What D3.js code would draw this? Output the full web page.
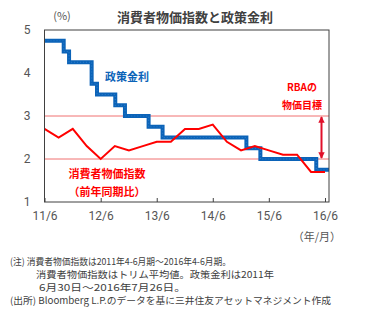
<!DOCTYPE html>
<html><head><meta charset="utf-8">
<script src="https://cdn.jsdelivr.net/npm/d3@7"></script>
<style>
body{margin:0;background:#fff;}
text{font-family:"Noto Sans CJK JP","Noto Sans",sans-serif;}
</style></head>
<body><svg id="c" width="367" height="333"></svg>
<script>
// CPI (trimmed mean, yoy %) quarterly 2011Q2 .. 2016Q2
const cpiDates = ["2011-06-30","2011-09-30","2011-12-31","2012-03-31","2012-06-30","2012-09-30","2012-12-31","2013-03-31","2013-06-30","2013-09-30","2013-12-31","2014-03-31","2014-06-30","2014-09-30","2014-12-31","2015-03-31","2015-06-30","2015-09-30","2015-12-31","2016-03-31","2016-06-30"];
const cpiValues = [2.7,2.5,2.7,2.3,2.0,2.3,2.2,2.3,2.4,2.4,2.7,2.7,2.8,2.4,2.2,2.3,2.2,2.1,2.1,1.7,1.7];
// RBA cash rate change dates and levels
const rateDates = ["2011-06-30","2011-11-02","2011-12-07","2012-05-02","2012-06-06","2012-10-03","2012-12-05","2013-05-08","2013-08-07","2015-02-04","2015-05-06","2016-05-04","2016-07-26"];
const rateValues = [4.75,4.5,4.25,3.75,3.5,3.25,3.0,2.75,2.5,2.25,2.0,1.75,1.75];
const xTickDates = ["2011-06-30","2012-06-30","2013-06-30","2014-06-30","2015-06-30","2016-06-30"];
const xTickLabels = ["11/6","12/6","13/6","14/6","15/6","16/6"];
const yTicks = [1,2,3,4,5];
const targetBand = [2,3];

const parse = d3.timeParse("%Y-%m-%d");
const svg = d3.select("#c");
const L=44.5,R=329,T=30,B=202;
const x = d3.scaleTime().domain([parse("2011-06-30"),parse("2016-07-26")]).range([L,R]);
const y = d3.scaleLinear().domain([1,5]).range([B,T]);

// reference lines
svg.selectAll(".ref").data(targetBand).enter().append("line")
 .attr("x1",L).attr("x2",R).attr("y1",d=>y(d)).attr("y2",d=>y(d))
 .attr("stroke","#F07070").attr("stroke-width",1);

// x axis ticks (inside)
const xAxis = d3.axisBottom(x).tickValues(xTickDates.map(parse)).tickSizeInner(-4).tickSizeOuter(0)
 .tickFormat((d,i)=>xTickLabels[i]).tickPadding(9);
const gx = svg.append("g").attr("transform",`translate(0,${B})`).call(xAxis);
gx.select(".domain").remove();
gx.selectAll("line").attr("stroke","#404040");
gx.selectAll("text").attr("fill","#555").style("font-size","12px").style("font-family","Roboto, 'Noto Sans', sans-serif");

const yAxis = d3.axisLeft(y).tickValues(yTicks).tickSize(0).tickPadding(14).tickFormat(d3.format("d"));
const gy = svg.append("g").attr("transform",`translate(${L},0)`).call(yAxis);
gy.select(".domain").remove();
gy.selectAll("text").attr("fill","#555").style("font-size","12px").style("font-family","Roboto, 'Noto Sans', sans-serif");

// policy rate step line
const rateData = rateDates.map((d,i)=>({d:parse(d),v:rateValues[i]}));
svg.append("path").datum(rateData)
 .attr("d",d3.line().x(d=>x(d.d)).y(d=>y(d.v)).curve(d3.curveStepAfter))
 .attr("fill","none").attr("stroke","#0B63B8").attr("stroke-width",4);
svg.append("path").datum(rateData)
 .attr("d",d3.line().x(d=>x(d.d)).y(d=>y(d.v)).curve(d3.curveStepAfter))
 .attr("fill","none").attr("stroke","#3C8AD6").attr("stroke-width",1.2).attr("stroke-dasharray","1,2").attr("opacity",0.6);

// CPI line
const cpiData = cpiDates.map((d,i)=>({d:parse(d),v:cpiValues[i]}));
svg.append("path").datum(cpiData)
 .attr("d",d3.line().x(d=>x(d.d)).y(d=>y(d.v)))
 .attr("fill","none").attr("stroke","#FF0000").attr("stroke-width",2).attr("stroke-linejoin","miter");

// plot border
svg.append("rect").attr("x",L).attr("y",T).attr("width",R-L).attr("height",B-T)
 .attr("fill","none").attr("stroke","#404040").attr("stroke-width",1);

// target arrow
const defs = svg.append("defs");
defs.append("marker").attr("id","ah").attr("viewBox","0 0 10 10").attr("refX",9).attr("refY",5)
 .attr("markerWidth",3.2).attr("markerHeight",4.5).attr("orient","auto-start-reverse")
 .append("path").attr("d","M0,0L10,5L0,10z").attr("fill","#E0102A");
const ax = 321.5;
svg.append("line").attr("x1",ax).attr("x2",ax).attr("y1",y(3)+1).attr("y2",y(2)-1)
 .attr("stroke","#E0102A").attr("stroke-width",2)
 .attr("marker-start","url(#ah)").attr("marker-end","url(#ah)");

// labels
svg.append("text").attr("x",195).attr("y",22).attr("text-anchor","middle")
 .style("font-size","13px").style("font-weight","bold").attr("fill","#404040").text("消費者物価指数と政策金利");
svg.append("text").attr("x",62).attr("y",20).attr("text-anchor","middle")
 .style("font-size","11px").attr("fill","#555").text("(%)");
svg.append("text").attr("x",105).attr("y",81).style("font-size","11px").style("font-weight","bold").attr("fill","#0B63B8").text("政策金利");
svg.append("text").attr("x",302).attr("y",91).attr("text-anchor","middle").style("font-size","10px").style("font-weight","bold").attr("fill","#FF0000").text("RBAの");
svg.append("text").attr("x",302).attr("y",109).attr("text-anchor","middle").style("font-size","10px").style("font-weight","bold").attr("fill","#FF0000").text("物価目標");
svg.append("text").attr("x",107).attr("y",178).attr("text-anchor","middle").style("font-size","11px").style("font-weight","bold").attr("fill","#FF0000").text("消費者物価指数");
svg.append("text").attr("x",107).attr("y",196).attr("text-anchor","middle").style("font-size","11px").style("font-weight","bold").attr("fill","#FF0000").text("（前年同期比）");
svg.append("text").attr("x",341).attr("y",241).attr("text-anchor","end").style("font-size","11px").attr("fill","#555").text("（年/月）");

const notes = [
 [10,264.5,221,"(注) 消費者物価指数は2011年4-6月期～2016年4-6月期。"],
 [36,277.5,238,"消費者物価指数はトリム平均値。政策金利は2011年"],
 [39,290.5,147,"6月30日～2016年7月26日。"],
 [10,304,321,"(出所) Bloomberg L.P.のデータを基に三井住友アセットマネジメント作成"]
];
svg.selectAll(".note").data(notes).enter().append("text")
 .attr("x",d=>d[0]).attr("y",d=>d[1]).attr("textLength",d=>d[2]).attr("lengthAdjust","spacingAndGlyphs")
 .style("font-size","9.5px").attr("fill","#404040").text(d=>d[3]);
</script></body></html>
